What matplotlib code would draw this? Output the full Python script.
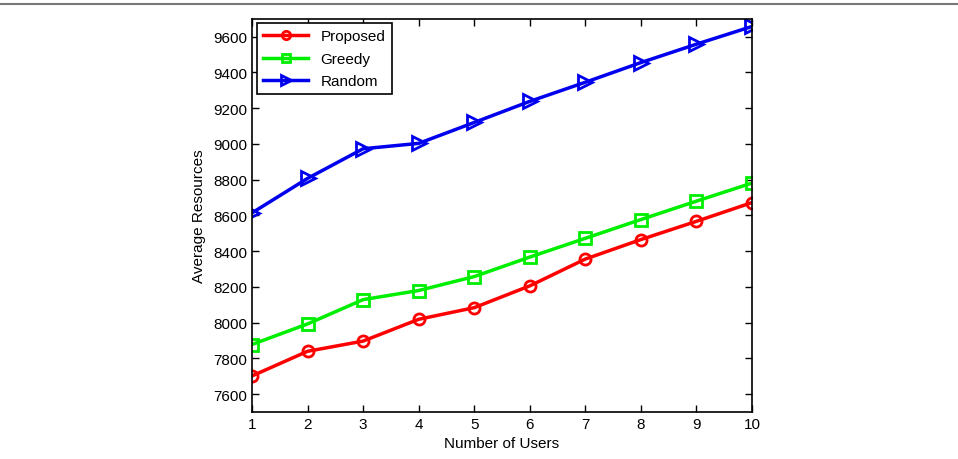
import matplotlib.pyplot as plt
from matplotlib.lines import Line2D

plt.rcParams['font.family'] = ['Liberation Sans', 'DejaVu Sans']

users = [1, 2, 3, 4, 5, 6, 7, 8, 9, 10]
proposed = [7702, 7840, 7897, 8019, 8084, 8206, 8356, 8465, 8567, 8672]
greedy = [7878, 7993, 8129, 8180, 8258, 8367, 8472, 8577, 8680, 8781]
random_alloc = [8614, 8807, 8973, 9003, 9120, 9238, 9345, 9455, 9558, 9657]
y_ticks = [7600, 7800, 8000, 8200, 8400, 8600, 8800, 9000, 9200, 9400, 9600]

fig = plt.figure(figsize=(9.58, 4.6), dpi=100)
# thin gray rule across the top of the picture
fig.add_artist(Line2D([0, 1], [0.99, 0.99], transform=fig.transFigure, color='#777777', lw=1.5))

ax = fig.add_axes([0.263, 0.102, 0.522, 0.855])
ax.plot(users, proposed, color='#ff0000', lw=2.5, marker='o', ms=8, mfc='none', mew=2, label='Proposed')
ax.plot(users, greedy, color='#00ee00', lw=2.5, marker='s', ms=8, mfc='none', mew=2, label='Greedy')
ax.plot(users, random_alloc, color='#0000ee', lw=2.5, marker='>', ms=10, mfc='none', mew=2, label='Random')

ax.set_xlim(1, 10)
ax.set_ylim(7500, 9700)
ax.set_xticks(users)
ax.set_yticks(y_ticks)
ax.tick_params(direction='in', top=True, right=True, labelsize=11, length=5, width=1)
for s in ax.spines.values():
    s.set_linewidth(1.2)
ax.set_xlabel('Number of Users', fontsize=11, labelpad=4)
ax.set_ylabel('Average Resources', fontsize=11, labelpad=5)

leg = ax.legend(loc='upper left', fontsize=11, handlelength=3, borderaxespad=0.3,
                fancybox=False, framealpha=1, edgecolor='black', labelspacing=0.55,
                markerscale=0.75)
leg.get_frame().set_linewidth(1.2)

fig.savefig('out.png', dpi=100)
